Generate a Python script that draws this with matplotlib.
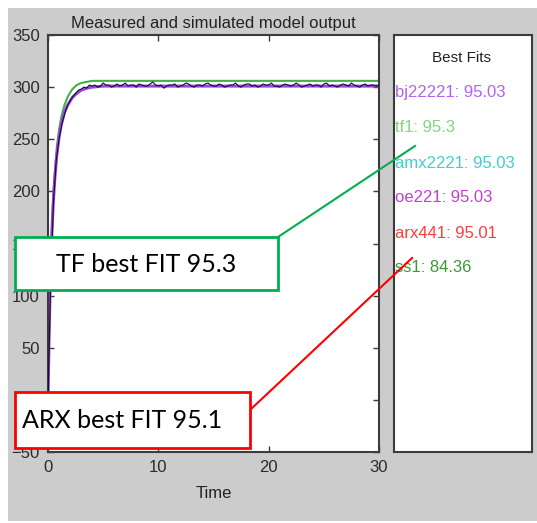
import matplotlib.pyplot as plt
from matplotlib.patches import Rectangle
from matplotlib.lines import Line2D

plt.rcParams['font.family'] = ['Liberation Sans', 'DejaVu Sans']

# model responses
t_model = [0, 0.1, 0.2, 0.3, 0.4, 0.5, 0.6, 0.8, 1.0, 1.2, 1.5, 1.8, 2.2, 2.6,
           3.0, 3.5, 4.0, 5.0, 6.0, 30]
bj_out = [0, 62, 110, 145, 172, 193, 210, 235, 252, 264, 276, 283, 290, 294,
          297, 299, 300, 301, 301, 301]
tf_out = [0, 64, 114, 150, 178, 199, 216, 242, 259, 271, 283, 291, 298, 302,
          304, 305, 306, 306, 306, 306]

# measured output, every 0.25 s
t_meas = [i * 0.25 for i in range(121)]
y_meas = [0, 118, 190, 230, 250, 264, 274, 282, 287, 291, 294, 297, 298, 300, 299, 302,
          301, 302, 300, 301, 304, 302, 302, 300, 301, 303, 301, 302, 304, 301, 302, 302,
          300, 303, 302, 301, 301, 303, 305, 302, 301, 302, 299, 301, 302, 302, 303, 300,
          301, 302, 304, 303, 301, 300, 302, 302, 301, 303, 304, 302, 301, 301, 303, 302,
          300, 301, 302, 302, 304, 301, 300, 302, 303, 303, 301, 302, 300, 301, 303, 302,
          302, 304, 301, 301, 300, 302, 303, 302, 301, 302, 304, 302, 300, 301, 302, 303,
          301, 302, 302, 300, 303, 304, 301, 302, 301, 300, 302, 303, 302, 301, 304, 302,
          301, 300, 302, 303, 301, 302, 302, 301, 302]

fit_names = ['bj22221: 95.03', 'tf1: 95.3', 'amx2221: 95.03', 'oe221: 95.03',
             'arx441: 95.01', 'ss1: 84.36']
fit_colors = ['#b062f2', '#7fd67f', '#3fcfcf', '#c23fd2', '#ff3c3c', '#3a983a']

W, H = 537, 523


def rect(l, t, r, b):
    return [l / W, 1 - b / H, (r - l) / W, (b - t) / H]


def pt(x, y):
    return x / W, 1 - y / H


fig = plt.figure(figsize=(W / 100, H / 100), dpi=100)
fig.patch.set_facecolor('white')
fig.add_artist(Rectangle(pt(8, 521), (W - 8) / W, 513 / H, transform=fig.transFigure,
                         facecolor='#cccccc', edgecolor='none', zorder=-10))

ax = fig.add_axes(rect(48, 35, 379, 452))
ax.plot(t_meas, y_meas, color='#1a0a2a', lw=0.8, zorder=3)
ax.plot(t_model, bj_out, color='#9a45e6', lw=2.2, zorder=2)
ax.plot(t_model, tf_out, color='#45b045', lw=1.5, zorder=1)
ax.set_xlim(0, 30)
ax.set_ylim(-50, 350)
ax.set_xticks([0, 10, 20, 30])
ax.set_yticks(range(-50, 351, 50))
ax.tick_params(direction='in', top=True, right=True, length=4, width=1,
               colors='#3a3a3a', labelsize=12, labelcolor='#2b2b2b', pad=6)
for s in ax.spines.values():
    s.set_color('#3c3c3c')
    s.set_linewidth(1.5)
ax.set_title('Measured and simulated model output', fontsize=12, color='#222222', pad=5)
ax.set_xlabel('Time', fontsize=12, color='#222222', labelpad=8)

leg = fig.add_axes(rect(394, 35, 532, 452))
leg.set_xticks([])
leg.set_yticks([])
for s in leg.spines.values():
    s.set_color('#3c3c3c')
    s.set_linewidth(1.5)
fig.text(462 / W, 1 - 58 / H, 'Best Fits', fontsize=11, color='#222222',
         ha='center', va='center')
for i, (name, c) in enumerate(zip(fit_names, fit_colors)):
    fig.text(395 / W, 1 - (93 + 35 * i) / H, name, fontsize=12, color=c,
             ha='left', va='center')

# callout boxes
fig.add_artist(Line2D([278 / W, 415 / W], [1 - 237 / H, 1 - 146 / H],
                      transform=fig.transFigure, color='#00b050', lw=1.5, zorder=20))
fig.add_artist(Line2D([250 / W, 412 / W], [1 - 410 / H, 1 - 258 / H],
                      transform=fig.transFigure, color='#ff0000', lw=1.5, zorder=20))
fig.add_artist(Rectangle(pt(15, 290), 263 / W, 53 / H, transform=fig.transFigure,
                         facecolor='white', edgecolor='#00b050', lw=2, zorder=21))
fig.add_artist(Rectangle(pt(15, 448), 235 / W, 56 / H, transform=fig.transFigure,
                         facecolor='white', edgecolor='#ff0000', lw=2, zorder=21))
fig.text(146.5 / W, 1 - 264 / H, 'TF best FIT 95.3', fontsize=18, family='Lato',
         color='black', ha='center', va='center', zorder=22)
fig.text(22 / W, 1 - 421 / H, 'ARX best FIT 95.1', fontsize=18, family='Lato',
         color='black', ha='left', va='center', zorder=22)

fig.savefig('out.png', dpi=100)
